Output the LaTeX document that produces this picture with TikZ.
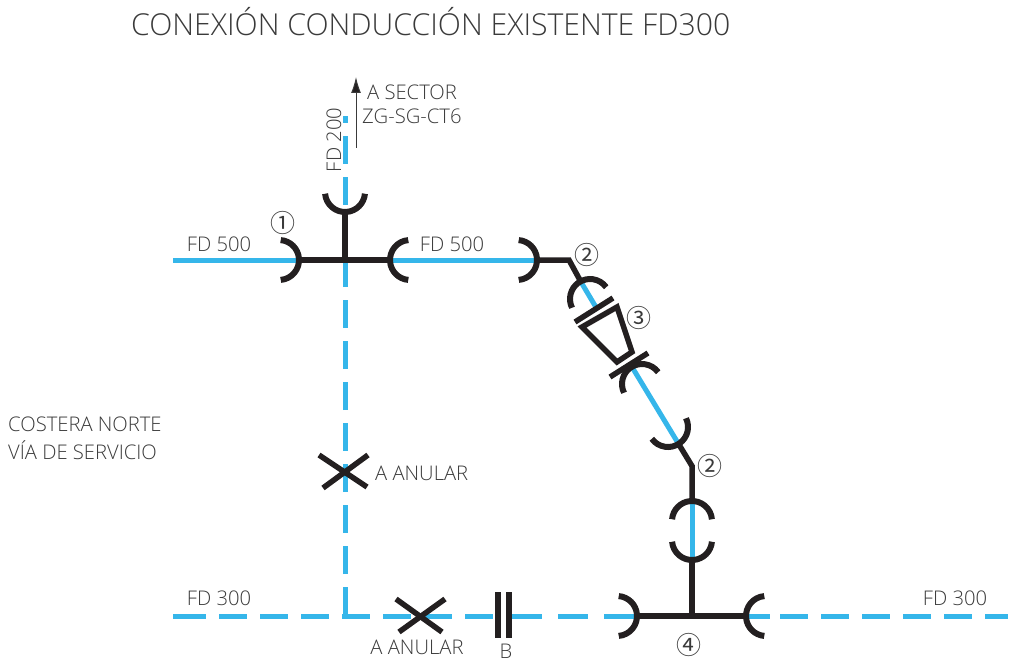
\documentclass[tikz,border=0pt]{standalone}
\usepackage{fontspec}
\setmainfont{Open Sans Light}[BoldFont=Open Sans]
\newfontfamily\sym{Noto Sans CJK SC}
\usetikzlibrary{calc,arrows.meta}
\definecolor{pipeblue}{HTML}{35B6EA}
\definecolor{pipeblack}{HTML}{231F20}
\definecolor{txt}{HTML}{3A3A3A}
\tikzset{
  x=1pt,y=-1pt,
  blue pipe/.style={draw=pipeblue,line width=5pt},
  dash main/.style={blue pipe,dash pattern=on 28pt off 13pt},
  black pipe/.style={draw=pipeblack,line width=5.5pt,line join=miter},
  bell/.style={draw=pipeblack,line width=6pt},
  plate/.style={draw=pipeblack,line width=5.5pt},
  lab/.style={text=txt,font=\fontsize{20.2}{22}\selectfont,inner sep=0pt},
  num/.style={text=txt,font=\sym\fontsize{25}{27}\selectfont,inner sep=0pt},
}
\newcommand{\bellat}[2]{\draw[bell] ($(#1)+(#2-85:20pt)$) arc[start angle=#2-85,end angle=#2+85,radius=20pt];}
\begin{document}
\begin{tikzpicture}
\useasboundingbox (0,0) rectangle (1016,663);
% key points
\coordinate (top) at (345,116);
\coordinate (corner) at (345,615);
\coordinate (cross) at (345,260);
\coordinate (w1) at (173,260);
\coordinate (t1l) at (299,260);
\coordinate (t1r) at (390,260);
\coordinate (b1) at (537,260);
\coordinate (k1) at (569,260);
\coordinate (d1) at (581,282);
\coordinate (d2) at (597,309);
\coordinate (d3) at (632,367);
\coordinate (d4) at (678,443);
\coordinate (k2) at (692,466);
\coordinate (v1) at (692,502);
\coordinate (v2) at (692,560);
\coordinate (t2) at (692,616);
\coordinate (t2l) at (637,616);
\coordinate (t2r) at (746,616);
\coordinate (e1) at (770,616);
\coordinate (e2) at (780,616);
\coordinate (e3) at (1008,616);
\coordinate (h0) at (173,616);
\coordinate (h1) at (329,616);
\coordinate (h2) at (342,616);
\coordinate (h3) at (495,616);
\coordinate (h4) at (512,616);
\coordinate (arrowtail) at (356,148);
\coordinate (arrowhead) at (356,77);
% blue pipes
\draw[dash main] (corner) -- (top);
\draw[blue pipe,dash pattern=on 33pt off 13pt on 28pt off 13pt on 28pt off 13pt on 28pt] (h0) -- (h1);
\draw[dash main] (h2) -- (h3);
\draw[blue pipe,dash pattern=on 30pt off 16pt] (h4) -- (t2l);
\draw[blue pipe] (t2r) -- (e1);
\draw[dash main] (e2) -- (e3);
\draw[blue pipe] (w1) -- (t1l);
\draw[blue pipe] (t1r) -- (b1);
\draw[blue pipe] (d1) -- (d2);
\draw[blue pipe] (d3) -- (d4);
\draw[blue pipe] (v1) -- (v2);
% black pipes
\draw[black pipe] (t1l) -- (t1r);
\draw[black pipe] (cross) -- (345,212);
\draw[black pipe] (b1) -- (k1) -- (d1);
\draw[black pipe] (d4) -- (k2) -- (v1);
\draw[black pipe] (v2) -- (t2);
\draw[black pipe] (t2l) -- (t2r);
% bells
\bellat{345,192}{270}
\bellat{279,260}{0}
\bellat{410,260}{180}
\bellat{517,260}{0}
\bellat{590,299}{121}
\bellat{642,384}{121}
\bellat{668,427}{-59}
\bellat{692,521}{90}
\bellat{692,540}{270}
\bellat{617,616}{0}
\bellat{766,616}{180}
% valve
\draw[plate] (575,322) -- (613,298);
\draw[plate] (610,377) -- (648,353);
\draw[plate] (582,327) -- (617,307) -- (632,352) -- (617,362) -- cycle;
% crosses
\draw[plate] (319,455) -- (367,487);
\draw[plate] (368,455) -- (323,488);
\draw[plate] (396,599) -- (442,632);
\draw[plate] (445,599) -- (399,632);
% bars
\draw[draw=pipeblack,line width=5.5pt] (498,592) -- (498,638);
\draw[draw=pipeblack,line width=5.5pt] (509,592) -- (509,638);
% arrow
\draw[draw=txt,line width=1pt,-{Latex[length=16pt,width=10pt,fill=pipeblack]}] (arrowtail) -- (arrowhead);
% texts
\node[text=txt,inner sep=0pt,anchor=west,font=\fontsize{30.2}{33}\selectfont] (title) at (131,22) {CONEXIÓN CONDUCCIÓN EXISTENTE FD300};
\node[lab,anchor=west] (as) at (367,92) {A SECTOR};
\node[lab,anchor=west] (zg) at (362,116) {ZG-SG-CT6};
\node[lab,rotate=90] (fd200) at (334,140) {FD 200};
\node[lab] (fa) at (219,244) {FD 500};
\node[lab] (fb) at (452,244) {FD 500};
\node[lab] (fc) at (219,598) {FD 300};
\node[lab] (fd) at (955,598) {FD 300};
\node[lab,anchor=west] (cn) at (8,424) {COSTERA NORTE};
\node[lab,anchor=west] (vs) at (8,450) {VÍA DE SERVICIO};
\node[lab,anchor=west] (an1) at (375,473) {A ANULAR};
\node[lab] (an2) at (417,647) {A ANULAR};
\node[lab,anchor=north] (bb) at (506,644) {B};
\node[num] (n1) at (283,223) {①};
\node[num] (n2) at (587,255) {②};
\node[num] (n3) at (639,318) {③};
\node[num] (n4) at (710,466) {②};
\node[num] (n5) at (689,645) {④};
\end{tikzpicture}
\end{document}
